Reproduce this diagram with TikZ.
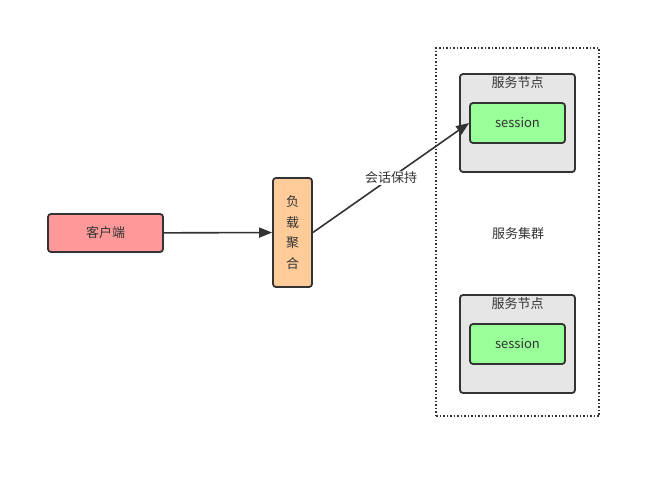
\documentclass[tikz,border=0pt]{standalone}
\usepackage{fontspec}
\setmainfont{Noto Sans CJK SC}
\usetikzlibrary{arrows.meta}
\definecolor{edge}{HTML}{333333}
\definecolor{cpink}{HTML}{FF9999}
\definecolor{corange}{HTML}{FFCC99}
\definecolor{cgray}{HTML}{E6E6E6}
\definecolor{cgreen}{HTML}{99FF99}
\tikzset{
  box/.style={draw=edge, line width=1.8pt, rounded corners=3pt, inner sep=0pt, font=\fontsize{13}{15}\selectfont, text=edge},
  link/.style={draw=edge, line width=1.6pt, -{Triangle[length=13pt,width=10pt]}},
  lbl/.style={font=\fontsize{13}{15}\selectfont, text=edge},
}
\begin{document}
\begin{tikzpicture}[x=1pt,y=-1pt]
\useasboundingbox (0,0) rectangle (661,479);
\node[draw=edge, line width=1.5pt, dotted, minimum width=163pt, minimum height=368pt, inner sep=0pt] (cluster) at (517.5,232) {};
\node[lbl] (clabel) at (518,234) {服务集群};
\node[box, fill=cpink, minimum width=115pt, minimum height=38pt] (client) at (105.5,233) {客户端};
\node[box, fill=corange, minimum width=39pt, minimum height=109pt, align=center, font=\fontsize{13}{20.5}\selectfont] (lb) at (292.5,232.5) {负\\载\\聚\\合};
\node[box, fill=cgray, minimum width=115pt, minimum height=98pt] (n1) at (517.5,123) {};
\node[lbl] (n1t) at (517.5,82.5) {服务节点};
\node[box, fill=cgreen, minimum width=95pt, minimum height=40pt] (s1) at (517.5,123) {session};
\node[box, fill=cgray, minimum width=115pt, minimum height=98pt] (n2) at (517.5,344) {};
\node[lbl] (n2t) at (517.5,303.5) {服务节点};
\node[box, fill=cgreen, minimum width=95pt, minimum height=40pt] (s2) at (517.5,344) {session};
\draw[link] (client) -- (lb);
\draw[link] (lb.east) -- (s1.west) node[pos=0.5, fill=white, inner sep=1pt, lbl] (keep) {会话保持};
\end{tikzpicture}
\end{document}
